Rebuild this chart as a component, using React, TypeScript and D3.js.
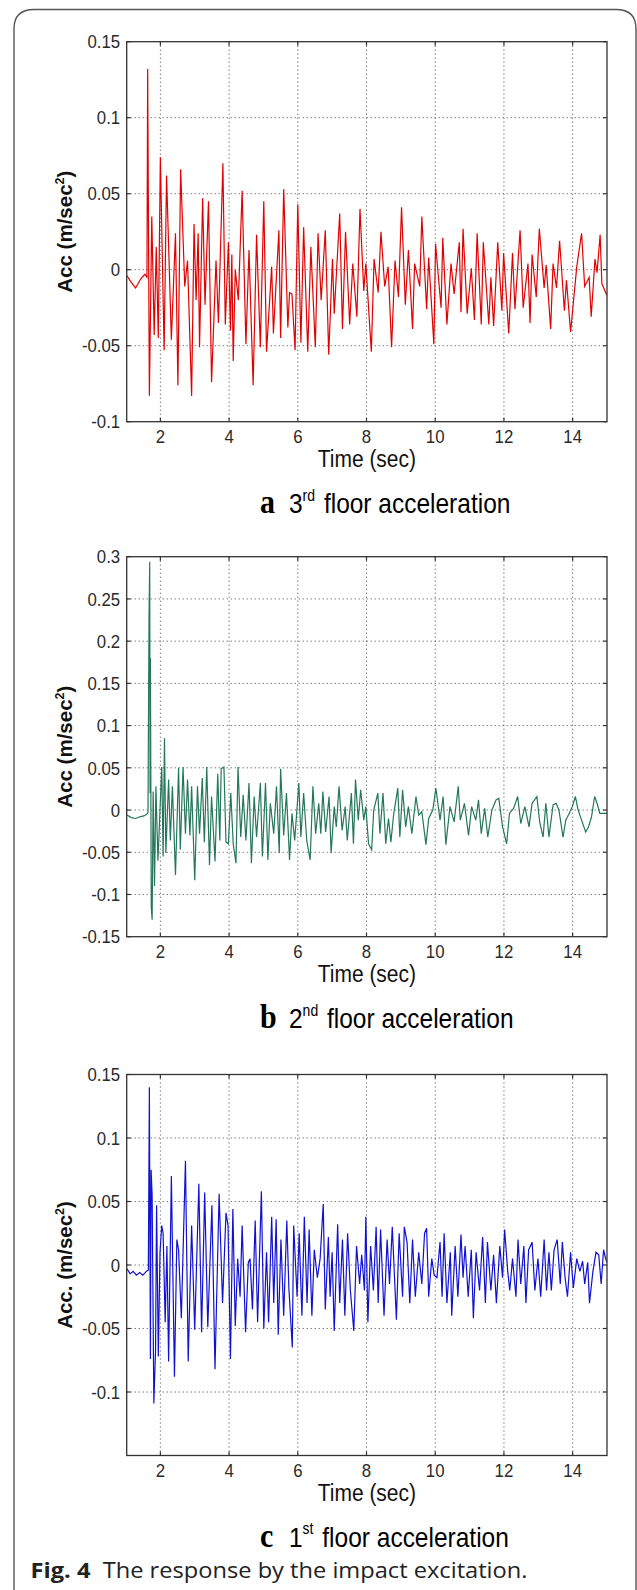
import React from 'react';
import * as d3 from 'd3';

// ---------- data ----------
const X_TICKS = [2, 4, 6, 8, 10, 12, 14];
const X_DOMAIN: [number, number] = [1.02, 15];

const Y_DOMAIN_3RD: [number, number] = [-0.1, 0.15];
const Y_TICKS_3RD = [-0.1, -0.05, 0, 0.05, 0.1, 0.15];
const Y_DOMAIN_2ND: [number, number] = [-0.15, 0.3];
const Y_TICKS_2ND = [-0.15, -0.1, -0.05, 0, 0.05, 0.1, 0.15, 0.2, 0.25, 0.3];
const Y_DOMAIN_1ST: [number, number] = [-0.15, 0.15];
const Y_TICKS_1ST = [-0.1, -0.05, 0, 0.05, 0.1, 0.15];

// time (sec), acceleration (m/sec^2)
const floor3Acc: [number, number][] = [
  [1.03,-0.004],[1.14,-0.008],[1.28,-0.012],[1.43,-0.006],[1.55,-0.003],[1.61,-0.005],
  [1.63,0.132],[1.68,-0.083],[1.75,0.035],[1.82,-0.043],[1.88,0.015],[1.94,-0.045],[2.00,0.074],[2.11,-0.053],[2.18,0.062],[2.32,-0.046],[2.44,0.024],[2.51,-0.076],[2.59,0.066],[2.71,-0.011],[2.79,0.006],[2.91,-0.083],[2.98,0.030],[3.04,-0.020],[3.10,0.024],[3.14,-0.051],[3.23,0.047],[3.30,-0.023],[3.40,0.045],[3.49,-0.074],[3.62,0.006],[3.69,-0.035],[3.82,0.070],[3.89,-0.036],[3.98,0.018],[4.04,-0.040],[4.08,0.010],[4.12,-0.060],[4.18,0.000],[4.27,-0.020],[4.38,0.052],[4.49,-0.049],[4.58,0.013],[4.70,-0.076],[4.80,0.023],[4.91,-0.051],[5.01,0.045],[5.09,-0.054],[5.24,0.002],[5.29,-0.042],[5.45,0.026],[5.50,-0.045],[5.59,0.053],[5.71,-0.038],[5.76,-0.015],[5.83,-0.016],[5.92,-0.053],[6.00,0.043],[6.09,-0.048],[6.17,0.028],[6.29,-0.054],[6.38,0.015],[6.51,-0.051],[6.59,0.024],[6.68,-0.020],[6.80,0.026],[6.90,-0.056],[7.01,0.007],[7.06,-0.029],[7.22,0.037],[7.30,-0.039],[7.39,0.025],[7.51,-0.036],[7.60,0.004],[7.72,-0.031],[7.81,0.040],[7.92,-0.014],[7.98,0.004],[8.14,-0.054],[8.22,0.007],[8.34,-0.015],[8.42,0.025],[8.53,-0.011],[8.63,0.002],[8.73,-0.051],[8.83,0.006],[8.93,-0.018],[9.02,0.041],[9.13,-0.023],[9.22,0.013],[9.34,-0.039],[9.40,0.004],[9.55,-0.011],[9.61,0.035],[9.75,-0.026],[9.81,0.008],[9.96,-0.049],[10.01,0.017],[10.17,-0.025],[10.22,0.021],[10.34,-0.036],[10.46,0.004],[10.55,-0.016],[10.70,0.018],[10.75,-0.028],[10.81,0.027],[10.93,-0.029],[11.05,0.001],[11.14,-0.033],[11.22,0.024],[11.34,-0.036],[11.40,0.018],[11.56,-0.036],[11.62,-0.005],[11.70,-0.037],[11.82,0.018],[11.94,-0.027],[11.99,0.011],[12.14,-0.042],[12.25,0.011],[12.32,-0.026],[12.47,0.026],[12.56,-0.025],[12.70,0.004],[12.76,-0.035],[12.82,0.010],[12.94,-0.018],[13.03,0.027],[13.17,-0.012],[13.23,0.003],[13.36,-0.039],[13.43,0.004],[13.53,-0.012],[13.62,0.019],[13.76,-0.027],[13.82,-0.007],[13.94,-0.041],[14.12,0.002],[14.26,0.024],[14.35,-0.011],[14.48,-0.005],[14.54,-0.031],[14.65,0.007],[14.71,-0.002],[14.80,0.023],[14.85,-0.009],[14.94,-0.014],[15.00,-0.017],
];

const floor2Acc: [number, number][] = [
  [1.03,-0.006],[1.15,-0.009],[1.28,-0.010],[1.40,-0.008],[1.52,-0.007],[1.60,-0.005],[1.64,-0.003],
  [1.67,0.23],[1.69,0.294],[1.70,0.02],[1.71,0.18],[1.735,-0.115],[1.76,-0.130],[1.79,0.022],[1.83,-0.09],[1.87,0.028],[1.93,-0.060],[2.04,0.051],[2.08,-0.055],[2.12,0.085],[2.16,-0.051],[2.24,0.036],[2.29,-0.036],[2.35,0.028],[2.44,-0.077],[2.53,0.050],[2.58,-0.047],[2.66,0.051],[2.73,-0.028],[2.79,0.036],[2.86,-0.030],[2.91,0.028],[3.00,-0.083],[3.08,0.028],[3.14,-0.028],[3.22,0.038],[3.28,-0.038],[3.35,0.051],[3.43,-0.065],[3.49,0.016],[3.59,-0.061],[3.67,0.043],[3.73,-0.036],[3.77,0.049],[3.85,0.051],[3.91,-0.038],[3.98,-0.040],[4.05,0.020],[4.12,-0.040],[4.20,-0.063],[4.26,0.051],[4.34,-0.032],[4.41,0.018],[4.49,-0.036],[4.58,0.032],[4.65,-0.063],[4.73,0.016],[4.80,-0.032],[4.91,0.032],[4.97,-0.055],[5.06,0.032],[5.13,-0.059],[5.20,0.008],[5.30,-0.028],[5.38,0.028],[5.46,-0.051],[5.50,0.049],[5.59,-0.030],[5.67,0.020],[5.76,-0.059],[5.83,-0.004],[5.91,-0.036],[6.03,0.032],[6.09,-0.032],[6.17,0.020],[6.26,-0.036],[6.36,-0.059],[6.44,0.028],[6.52,-0.028],[6.61,0.008],[6.67,-0.028],[6.73,0.022],[6.81,-0.026],[6.91,0.016],[6.97,-0.051],[7.06,0.004],[7.12,-0.020],[7.20,0.028],[7.29,-0.024],[7.38,0.004],[7.44,-0.036],[7.56,0.020],[7.62,-0.040],[7.68,0.036],[7.76,-0.012],[7.83,0.024],[7.92,-0.012],[7.98,0.004],[8.06,-0.040],[8.15,-0.047],[8.21,0.000],[8.33,0.020],[8.39,-0.028],[8.48,0.020],[8.56,-0.040],[8.64,-0.010],[8.71,-0.038],[8.79,-0.005],[8.91,0.026],[8.97,-0.032],[9.05,0.024],[9.14,-0.020],[9.22,0.004],[9.32,-0.028],[9.44,0.016],[9.52,-0.006],[9.61,-0.002],[9.73,-0.041],[9.81,-0.010],[9.93,0.000],[10.02,0.026],[10.14,-0.012],[10.23,0.016],[10.31,-0.041],[10.43,0.004],[10.55,-0.014],[10.67,0.028],[10.73,-0.012],[10.85,0.008],[10.97,-0.030],[11.06,0.004],[11.18,-0.012],[11.26,0.012],[11.34,-0.028],[11.44,0.002],[11.53,-0.032],[11.65,0.000],[11.77,0.012],[11.85,0.014],[11.96,-0.020],[12.08,-0.040],[12.16,-0.004],[12.28,0.002],[12.40,0.016],[12.49,-0.016],[12.61,0.004],[12.73,-0.020],[12.82,0.008],[12.96,0.016],[13.04,-0.014],[13.14,-0.032],[13.22,0.008],[13.31,-0.032],[13.43,0.006],[13.52,0.008],[13.60,0.000],[13.72,-0.032],[13.80,-0.012],[13.90,-0.004],[13.99,0.004],[14.08,0.016],[14.16,0.000],[14.26,-0.012],[14.38,-0.026],[14.46,-0.020],[14.55,-0.008],[14.64,0.016],[14.71,0.008],[14.79,-0.004],[14.85,-0.004],[15.00,-0.004],
];

const floor1Acc: [number, number][] = [
  [1.03,-0.003],[1.12,-0.007],[1.21,-0.005],[1.30,-0.008],[1.40,-0.006],[1.49,-0.008],[1.59,-0.005],[1.65,-0.004],
  [1.68,0.140],[1.71,-0.074],[1.73,0.075],[1.76,0.055],[1.81,-0.109],[1.86,-0.067],[1.89,0.047],[1.94,-0.072],[1.99,0.010],[2.04,0.031],[2.08,0.025],[2.14,-0.045],[2.19,0.015],[2.24,-0.076],[2.32,0.070],[2.41,-0.088],[2.48,0.020],[2.53,0.012],[2.61,-0.042],[2.73,0.082],[2.81,-0.076],[2.91,0.031],[3.00,-0.051],[3.12,0.064],[3.20,-0.053],[3.29,0.057],[3.38,-0.049],[3.50,0.047],[3.59,-0.082],[3.71,0.056],[3.81,-0.030],[3.91,0.041],[3.97,0.031],[4.04,-0.074],[4.11,0.044],[4.18,-0.048],[4.25,0.005],[4.32,-0.025],[4.38,0.031],[4.48,-0.053],[4.56,0.002],[4.61,0.005],[4.68,-0.035],[4.76,0.035],[4.83,-0.045],[4.94,0.058],[5.01,-0.050],[5.09,0.010],[5.15,-0.045],[5.24,0.038],[5.30,-0.030],[5.37,0.036],[5.43,-0.055],[5.51,0.020],[5.59,-0.040],[5.68,0.035],[5.74,-0.018],[5.84,-0.065],[5.88,0.031],[5.98,-0.025],[6.04,0.025],[6.12,-0.040],[6.19,0.038],[6.27,-0.030],[6.33,0.028],[6.41,-0.040],[6.48,0.012],[6.57,-0.010],[6.65,0.005],[6.74,0.048],[6.80,-0.035],[6.89,0.022],[6.94,-0.025],[7.00,0.010],[7.06,-0.052],[7.16,0.032],[7.22,-0.030],[7.30,0.020],[7.37,-0.040],[7.45,0.025],[7.53,-0.020],[7.63,-0.052],[7.71,0.015],[7.80,-0.015],[7.86,0.008],[7.94,-0.020],[7.98,0.038],[8.04,-0.045],[8.12,0.015],[8.20,-0.020],[8.28,0.030],[8.34,-0.030],[8.41,0.028],[8.51,-0.040],[8.60,0.020],[8.67,-0.015],[8.75,0.030],[8.87,-0.043],[8.95,0.025],[9.05,-0.025],[9.10,0.030],[9.18,0.018],[9.26,-0.030],[9.34,0.020],[9.42,-0.025],[9.52,0.010],[9.61,-0.015],[9.69,0.025],[9.75,0.029],[9.81,-0.025],[9.90,0.005],[9.97,-0.008],[10.05,-0.010],[10.14,0.018],[10.20,-0.025],[10.26,0.025],[10.34,-0.030],[10.44,0.010],[10.48,-0.040],[10.58,0.015],[10.66,-0.025],[10.75,0.024],[10.81,-0.010],[10.87,0.015],[10.96,-0.025],[11.05,0.012],[11.11,-0.042],[11.19,0.010],[11.29,-0.020],[11.38,0.022],[11.46,-0.030],[11.52,0.018],[11.62,-0.020],[11.70,0.008],[11.78,-0.030],[11.88,0.015],[11.96,-0.010],[12.02,0.028],[12.11,-0.005],[12.17,-0.020],[12.25,0.005],[12.35,-0.025],[12.41,0.020],[12.49,-0.015],[12.58,0.015],[12.64,-0.030],[12.72,0.012],[12.82,0.018],[12.90,-0.020],[12.99,0.005],[13.07,-0.025],[13.17,0.020],[13.24,-0.020],[13.31,0.010],[13.38,-0.020],[13.46,0.012],[13.55,0.020],[13.64,-0.015],[13.70,0.018],[13.78,-0.010],[13.85,-0.025],[13.94,0.010],[14.02,-0.018],[14.12,0.005],[14.21,-0.005],[14.29,0.003],[14.35,-0.015],[14.44,0.002],[14.49,-0.030],[14.59,-0.005],[14.68,0.010],[14.76,0.008],[14.83,-0.015],[14.90,0.012],[14.96,0.005],[15.00,0.002],
];

// ---------- layout ----------
const W = 637;
const H = 1590;
const L = 126.7;
const R = 607;
const SY = 1.12;
const AX_FONT = "'Liberation Sans', Arial, Helvetica, sans-serif";

type PanelProps = {
  top: number;
  height: number;
  yDomain: [number, number];
  yTicks: number[];
  data: [number, number][];
  color: string;
  ylabel: string;
  letter: string;
  ordinal: string;
  sup: string;
  id: string;
};

function Panel(p: PanelProps) {
  const bottom = p.top + p.height;
  const x = d3.scaleLinear().domain(X_DOMAIN).range([L, R]);
  const y = d3.scaleLinear().domain(p.yDomain).range([bottom, p.top]);
  const line = d3
    .line<[number, number]>()
    .x((d) => x(d[0]))
    .y((d) => y(d[1]));
  const gridY = p.yTicks.filter((v) => v > p.yDomain[0] + 1e-9 && v < p.yDomain[1] - 1e-9);
  const cx = (L + R) / 2;
  const cy = (p.top + bottom) / 2;
  const capBase = bottom + 91.5;
  return (
    <g>
      <defs>
        <clipPath id={p.id}>
          <rect x={L} y={p.top} width={R - L} height={p.height} />
        </clipPath>
      </defs>
      <rect x={L} y={p.top} width={R - L} height={p.height} fill="#fff" />
      {/* grid */}
      {X_TICKS.map((t) => (
        <line key={'gx' + t} x1={x(t)} x2={x(t)} y1={p.top} y2={bottom} stroke="#444" strokeWidth={1} strokeDasharray="1,3" />
      ))}
      {gridY.map((v) => (
        <line key={'gy' + v} x1={L} x2={R} y1={y(v)} y2={y(v)} stroke="#444" strokeWidth={1} strokeDasharray="1,3" />
      ))}
      {/* data */}
      <path d={line(p.data) || ''} fill="none" stroke={p.color} strokeWidth={1.2} strokeLinejoin="miter" clipPath={`url(#${p.id})`} />
      {/* tick marks */}
      {X_TICKS.map((t) => (
        <g key={'tx' + t}>
          <line x1={x(t)} x2={x(t)} y1={bottom} y2={bottom - 4} stroke="#333" strokeWidth={1.2} />
          <line x1={x(t)} x2={x(t)} y1={p.top} y2={p.top + 4} stroke="#333" strokeWidth={1.2} />
        </g>
      ))}
      {p.yTicks.map((v) => (
        <g key={'ty' + v}>
          <line x1={L} x2={L + 4} y1={y(v)} y2={y(v)} stroke="#333" strokeWidth={1.2} />
          <line x1={R} x2={R - 4} y1={y(v)} y2={y(v)} stroke="#333" strokeWidth={1.2} />
        </g>
      ))}
      <rect x={L} y={p.top} width={R - L} height={p.height} fill="none" stroke="#333" strokeWidth={1.3} />
      {/* tick labels */}
      {p.yTicks.map((v) => (
        <g key={'ly' + v} transform={`translate(${L - 6.5},${y(v)}) scale(1,${SY})`}>
          <text textAnchor="end" dy="0.36em" fontSize={16.8} fontFamily={AX_FONT} fill="#2a2a2a">
            {String(v)}
          </text>
        </g>
      ))}
      {X_TICKS.map((t) => (
        <g key={'lx' + t} transform={`translate(${x(t)},${bottom + 14.5}) scale(1,${SY})`}>
          <text textAnchor="middle" dy="0.36em" fontSize={16.8} fontFamily={AX_FONT} fill="#2a2a2a">
            {String(t)}
          </text>
        </g>
      ))}
      <g transform={`translate(${cx},${bottom + 36.6}) scale(1,${SY})`}>
        <text textAnchor="middle" dy="0.36em" fontSize={21} fontFamily={AX_FONT} fill="#111">
          Time (sec)
        </text>
      </g>
      <g transform={`translate(65,${cy}) rotate(-90)`}>
        <text textAnchor="middle" dy="0.36em" fontSize={20.5} fontWeight="bold" fontFamily={AX_FONT} fill="#111">
          {p.ylabel}
          <tspan fontSize={12.5} dy={-8.5}>2</tspan>
          <tspan dy={8.5}>)</tspan>
        </text>
      </g>
      {/* caption */}
      <g transform={`translate(0,${capBase}) scale(1,1.15)`}>
        <text x={260} y={0} fontFamily="'Liberation Serif', 'Times New Roman', serif" fontWeight="bold" fontSize={30} fill="#000">
          {p.letter}
        </text>
        <text x={289} y={0} fontFamily={AX_FONT} fontSize={24.5} fill="#000">
          {p.ordinal}
          <tspan fontSize={14} dy={-11}>{p.sup}</tspan>
          <tspan dy={11} dx={2}> floor acceleration</tspan>
        </text>
      </g>
    </g>
  );
}

export default function App() {
  return (
    <svg
      width={W}
      height={H}
      viewBox={`0 0 ${W} ${H}`}
      style={{ position: 'absolute', left: 0, top: 0, display: 'block', background: '#fff' }}
    >
      <rect x={0} y={0} width={W} height={H} fill="#fff" />
      <path d="M14,1590 V29 Q14,9.5 34,9.5 H616 Q636,9.5 636,29 V1590" fill="none" stroke="#555" strokeWidth={1.4} />
      <Panel id="clipA" top={41.7} height={380} yDomain={Y_DOMAIN_3RD} yTicks={Y_TICKS_3RD} data={floor3Acc} color="#e30000" ylabel="Acc (m/sec" letter="a" ordinal="3" sup="rd" />
      <Panel id="clipB" top={556.7} height={380} yDomain={Y_DOMAIN_2ND} yTicks={Y_TICKS_2ND} data={floor2Acc} color="#24775a" ylabel="Acc (m/sec" letter="b" ordinal="2" sup="nd" />
      <Panel id="clipC" top={1074.5} height={381} yDomain={Y_DOMAIN_1ST} yTicks={Y_TICKS_1ST} data={floor1Acc} color="#1010d6" ylabel="Acc. (m/sec" letter="c" ordinal="1" sup="st" />
      <g transform="translate(30.5,1578) scale(1,1.1)">
        <text x={0} y={0} fontFamily="'Open Sans', 'Noto Sans', sans-serif" fontSize={19.5} fill="#222" textLength={497} lengthAdjust="spacingAndGlyphs">
          <tspan fontWeight="bold">Fig. 4</tspan>
          <tspan>{'\u00a0 The response by the impact excitation.'}</tspan>
        </text>
      </g>
    </svg>
  );
}
